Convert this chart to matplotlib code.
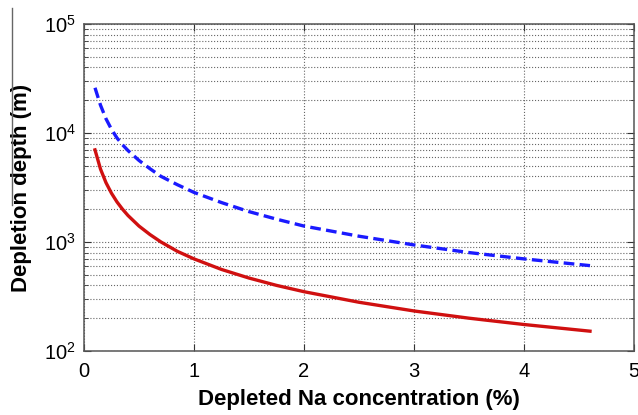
import numpy as np
import matplotlib.pyplot as plt
from matplotlib.ticker import LogLocator, NullFormatter
from matplotlib.lines import Line2D

plt.rcParams['font.family'] = ['Liberation Sans', 'DejaVu Sans']

# values
na_red = [0.1, 0.15, 0.2, 0.25, 0.3, 0.35, 0.4, 0.5, 0.6, 0.7, 0.85, 1.0, 1.25,
          1.5, 1.75, 2.0, 2.5, 3.0, 3.5, 4.0, 4.6]
depth_red = [7000, 4670, 3500, 2800, 2330, 2000, 1750, 1400, 1170, 1000, 820, 700,
             560, 467, 400, 350, 280, 233, 200, 175, 152]

na_blue = [0.1, 0.15, 0.2, 0.25, 0.3, 0.35, 0.4, 0.5, 0.6, 0.7, 0.85, 1.0, 1.25,
           1.5, 1.75, 2.0, 2.5, 3.0, 3.5, 4.0, 4.6]
depth_blue = [26000, 18000, 13500, 10800, 9000, 7800, 6900, 5600, 4700, 4000, 3350,
              2850, 2300, 1900, 1620, 1400, 1130, 940, 800, 700, 607]

xticks = [0, 1, 2, 3, 4, 5]

fig = plt.figure(figsize=(6.38, 4.15), dpi=100)
ax = fig.add_axes([84/638, 1 - 351/415, 550/638, 327/415])

ax.plot(na_blue, depth_blue, color='#1a1aff', lw=2.4, ls=(0, (3.2, 1.6)))
ax.plot(na_red, depth_red, color='#d01010', lw=2.4)

ax.set_yscale('log')
ax.set_xlim(0, 5)
ax.set_ylim(1e2, 1e5)
ax.set_xticks(xticks)
ax.yaxis.set_major_locator(LogLocator(base=10))
ax.yaxis.set_minor_locator(LogLocator(base=10, subs=np.arange(2, 10)))
ax.yaxis.set_minor_formatter(NullFormatter())

ax.grid(True, which='major', axis='x', ls=':', color='#666666', lw=0.8)
ax.grid(True, which='both', axis='y', ls=':', color='#666666', lw=0.8)
ax.tick_params(which='both', direction='in', top=True, right=True,
               labelsize=14.5, colors='#333333', labelcolor='black')
ax.tick_params(which='major', length=5)
ax.tick_params(which='minor', length=3)
ax.tick_params(axis='x', pad=8)
ax.tick_params(axis='y', pad=6)
for s in ax.spines.values():
    s.set_color('#555555')
    s.set_linewidth(1.1)

ax.set_xlabel('Depleted Na concentration (%)', fontsize=16, fontweight='bold', labelpad=6)
ax.set_ylabel('Depletion depth (m)', fontsize=16, fontweight='bold', labelpad=8)

# stray vertical rule at far left of the original image
fig.add_artist(Line2D([12/638, 12/638], [1 - 8/415, 1 - 205/415],
                      transform=fig.transFigure, color='#666666', lw=1))

fig.savefig('out.png', dpi=100)
